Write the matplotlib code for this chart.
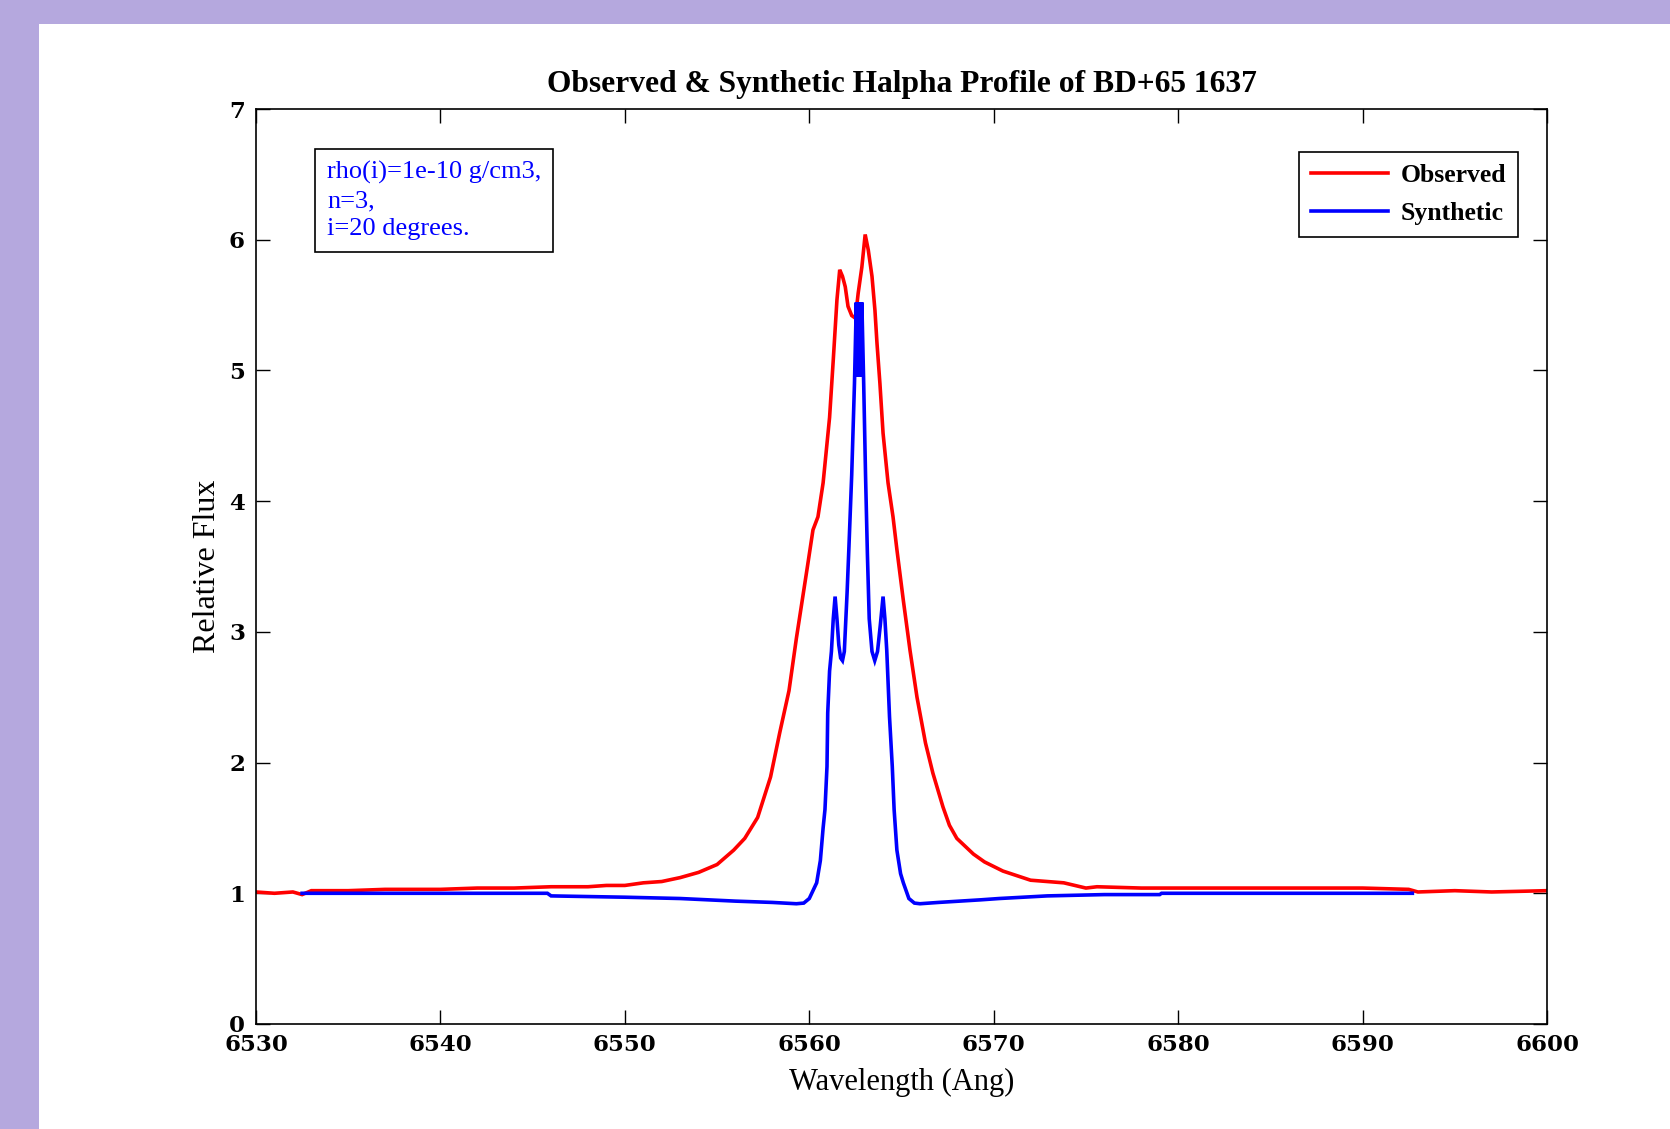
import matplotlib
matplotlib.use("Agg")
import matplotlib.pyplot as plt
from matplotlib.patches import Rectangle

# ---- data ----
obs_wave = [6530.0, 6531.0, 6532.0, 6532.5, 6533.0, 6535.0, 6537.0, 6540.0, 6542.0, 6544.0,
            6546.0, 6548.0, 6549.0, 6550.0, 6551.0, 6552.0, 6553.0, 6554.0, 6555.0, 6555.9,
            6556.5, 6557.2, 6557.9, 6558.4, 6558.9, 6559.3, 6559.9, 6560.2, 6560.47, 6560.75,
            6561.1, 6561.3, 6561.5, 6561.65, 6561.8, 6561.95, 6562.1, 6562.3, 6562.5, 6562.65,
            6562.85, 6563.03, 6563.2, 6563.4, 6563.56, 6563.67, 6563.83, 6564.0, 6564.27, 6564.54,
            6564.75, 6565.1, 6565.46, 6565.84, 6566.3, 6566.7, 6567.25, 6567.6, 6568.0, 6568.9,
            6569.5, 6570.5, 6572.0, 6573.8, 6575.0, 6575.6, 6578.0, 6580.0, 6582.0, 6585.0,
            6588.0, 6590.0, 6592.5, 6593.0, 6595.0, 6597.0, 6600.0]
obs_flux = [1.01, 1.00, 1.01, 0.99, 1.02, 1.02, 1.03, 1.03, 1.04, 1.04,
            1.05, 1.05, 1.06, 1.06, 1.08, 1.09, 1.12, 1.16, 1.22, 1.33,
            1.42, 1.58, 1.89, 2.23, 2.55, 2.95, 3.50, 3.78, 3.88, 4.14,
            4.64, 5.08, 5.54, 5.77, 5.72, 5.64, 5.49, 5.42, 5.40, 5.59,
            5.79, 6.04, 5.92, 5.72, 5.46, 5.21, 4.90, 4.52, 4.14, 3.88,
            3.63, 3.24, 2.86, 2.50, 2.15, 1.92, 1.66, 1.52, 1.42, 1.30,
            1.24, 1.17, 1.10, 1.08, 1.04, 1.05, 1.04, 1.04, 1.04, 1.04,
            1.04, 1.04, 1.03, 1.01, 1.02, 1.01, 1.02]

syn_wave = [6532.5, 6540.0, 6545.8, 6546.0, 6550.0, 6553.0, 6556.0, 6558.0, 6559.3, 6559.7,
            6560.0, 6560.4, 6560.6, 6560.75, 6560.85, 6560.96, 6561.0, 6561.1, 6561.2, 6561.3,
            6561.4, 6561.5, 6561.6, 6561.7, 6561.8, 6561.9, 6561.95, 6562.05, 6562.15, 6562.3,
            6562.45, 6562.55, 6562.62, 6562.7, 6562.78, 6562.85, 6562.95, 6563.05, 6563.15, 6563.25,
            6563.4, 6563.55, 6563.7, 6563.85, 6564.0, 6564.1, 6564.2, 6564.35, 6564.5, 6564.6,
            6564.75, 6564.95, 6565.1, 6565.4, 6565.7, 6566.0, 6567.0, 6569.3, 6570.3, 6572.9,
            6576.0, 6579.0, 6579.1, 6592.7]
syn_flux = [1.00, 1.00, 1.00, 0.98, 0.97, 0.96, 0.94, 0.93, 0.92, 0.925,
            0.96, 1.08, 1.25, 1.50, 1.64, 1.97, 2.38, 2.70, 2.85, 3.10,
            3.27, 3.10, 2.90, 2.80, 2.78, 2.85, 3.00, 3.30, 3.65, 4.20,
            4.90, 5.52, 4.95, 5.52, 4.95, 5.52, 4.90, 4.20, 3.60, 3.10,
            2.85, 2.78, 2.85, 3.05, 3.27, 3.10, 2.86, 2.35, 1.97, 1.64,
            1.33, 1.15, 1.08, 0.96, 0.925, 0.92, 0.93, 0.95, 0.96, 0.98,
            0.99, 0.99, 1.00, 1.00]

x_ticks = [6530, 6540, 6550, 6560, 6570, 6580, 6590, 6600]
y_ticks = [0, 1, 2, 3, 4, 5, 6, 7]

title = "Observed & Synthetic Halpha Profile of BD+65 1637"
x_label = "Wavelength (Ang)"
y_label = "Relative Flux"
series_names = ["Observed", "Synthetic"]
note = "rho(i)=1e-10 g/cm3,\nn=3,\ni=20 degrees."

# ---- figure ----
W, H = 1670, 1129
fig = plt.figure(figsize=(W / 100, H / 100), dpi=100)
fig.patch.set_facecolor("#b5a8de")
fig.patches.append(Rectangle((39 / W, 0), 1 - 39 / W, 1 - 24 / H,
                             transform=fig.transFigure, facecolor="white",
                             edgecolor="none", zorder=-10))

ax = fig.add_axes([256 / W, 1 - 1024 / H, (1547 - 256) / W, (1024 - 109) / H])
ax.set_facecolor("white")

ax.plot(obs_wave, obs_flux, color="#ff0000", lw=2.6, label=series_names[0],
        solid_joinstyle="miter")
ax.plot(syn_wave, syn_flux, color="#0000ff", lw=2.6, label=series_names[1],
        solid_joinstyle="miter")

ax.set_xlim(6530, 6600)
ax.set_ylim(0, 7)
ax.set_xticks(x_ticks)
ax.set_yticks(y_ticks)
tick_font = dict(family="DejaVu Serif", weight="bold", size=16.5)
ax.set_xticklabels([str(t) for t in x_ticks], fontdict=tick_font)
ax.set_yticklabels([str(t) for t in y_ticks], fontdict=tick_font)
ax.tick_params(direction="in", length=10, width=1.0, top=True, right=True,
               color="black")
ax.tick_params(axis="x", pad=7)
ax.tick_params(axis="y", pad=8)
for s in ax.spines.values():
    s.set_linewidth(1.2)

serif = ["Liberation Serif", "DejaVu Serif"]
ax.set_title(title, family=serif, weight="bold", size=22.7, pad=12)
ax.set_xlabel(x_label, family=serif, size=22, labelpad=9)
ax.set_ylabel(y_label, family=serif, size=23, labelpad=5)

leg = ax.legend(loc="upper right", bbox_to_anchor=(1518 / W, 1 - 152 / H),
                bbox_transform=fig.transFigure, borderaxespad=0,
                prop=dict(family=serif, weight="bold", size=18.5),
                fancybox=False, framealpha=1, edgecolor="black",
                handlelength=3.0, handletextpad=0.5, borderpad=0.45,
                labelspacing=0.6)
leg.get_frame().set_linewidth(1.2)

fig.text(327 / W, 1 - 161 / H, note, family=serif, size=19, color="#0000ff",
         va="top", ha="left", linespacing=1.36,
         bbox=dict(boxstyle="square,pad=0.45", facecolor="white",
                   edgecolor="black", linewidth=1.2))

fig.savefig("out.png", dpi=100, facecolor=fig.get_facecolor())
